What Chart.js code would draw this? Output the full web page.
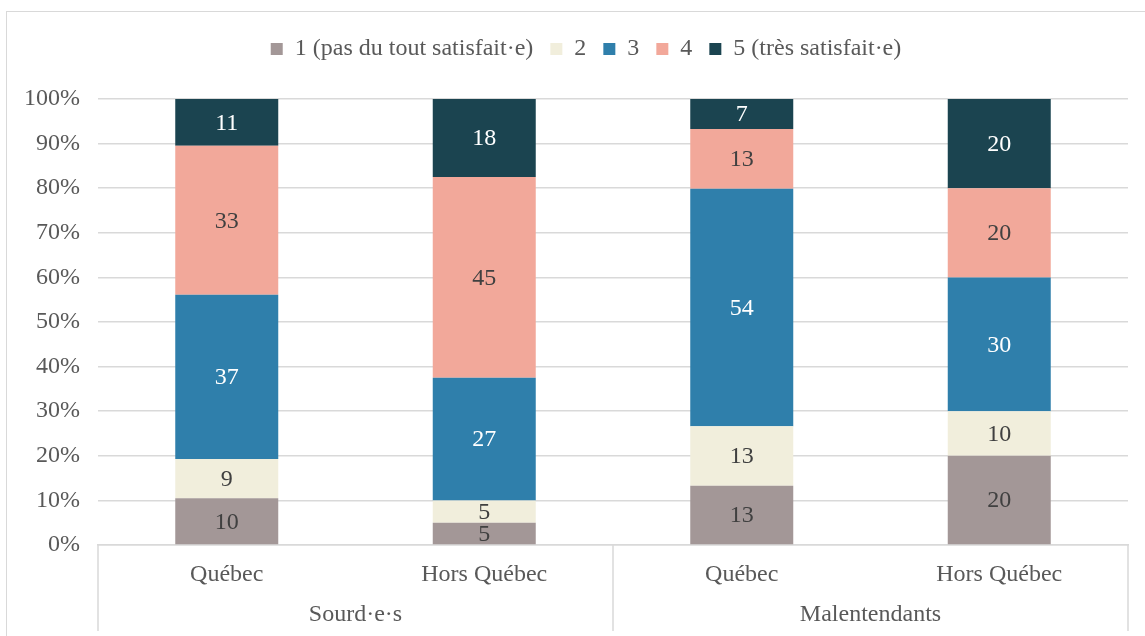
<!DOCTYPE html>
<html lang="fr">
<head>
    <meta charset="UTF-8">
    <title>Satisfaction - Sourd·e·s / Malentendants</title>
    <script src="https://cdn.jsdelivr.net/npm/chart.js@4.4.1/dist/chart.umd.min.js"></script>
    <style>
        * { margin: 0; padding: 0; box-sizing: border-box; }
        body { background: #fff; width: 1145px; height: 636px; overflow: hidden; }
        .wrap { position: relative; width: 1145px; height: 636px; }
        .frame {
            position: absolute; left: 6px; top: 11px; width: 1145px; height: 640px;
            border: 1.5px solid #d9d9d9;
        }
        canvas { position: absolute; left: 0; top: 0; }
    </style>
</head>
<body>
<div class="wrap">
    <div class="frame"></div>
    <canvas id="chart" width="1145" height="636"></canvas>
</div>
<script>
    // Data (percentages per bar)
    const categories = ['Québec', 'Hors Québec', 'Québec', 'Hors Québec'];
    const groups = ['Sourd·e·s', 'Malentendants'];
    const seriesNames = ['1 (pas du tout satisfait·e)', '2', '3', '4', '5 (très satisfait·e)'];

    const s1 = [10.5, 5, 13.3, 20];
    const s2 = [8.8, 5, 13.3, 10];
    const s3 = [36.8, 27.5, 53.3, 30];
    const s4 = [33.4, 45, 13.4, 20];
    const s5 = [10.5, 17.5, 6.7, 20];

    // labels shown on the segments
    const l1 = [10, 5, 13, 20];
    const l2 = [9, 5, 13, 10];
    const l3 = [37, 27, 54, 30];
    const l4 = [33, 45, 13, 20];
    const l5 = [11, 18, 7, 20];

    const yTicks = [0, 10, 20, 30, 40, 50, 60, 70, 80, 90, 100];

    const colors = ['#a39797', '#f1eedc', '#2f7fab', '#f2a89a', '#1b4450'];
    const labelColors = ['#404040', '#404040', '#ffffff', '#404040', '#ffffff'];
    const seriesValues = [s1, s2, s3, s4, s5];
    const seriesLabels = [l1, l2, l3, l4, l5];

    const FONT = "'Liberation Serif', 'Times New Roman', serif";
    const GRID = '#d9d9d9';

    // extra room between legend and plot, legend nudged right
    const legendGap = {
        id: 'legendGap',
        beforeInit(chart) {
            const fit = chart.legend.fit;
            chart.legend.fit = function () {
                fit.call(this);
                this.height += 28;
            };
        },
        afterUpdate(chart) {
            chart.legend.left += 19;
            chart.legend.right += 19;
        }
    };

    // value labels in the middle of each segment
    const segmentLabels = {
        id: 'segmentLabels',
        afterDatasetsDraw(chart) {
            const ctx = chart.ctx;
            ctx.save();
            ctx.font = '24px ' + FONT;
            ctx.textAlign = 'center';
            ctx.textBaseline = 'middle';
            chart.data.datasets.forEach((ds, i) => {
                const meta = chart.getDatasetMeta(i);
                meta.data.forEach((bar, j) => {
                    ctx.fillStyle = labelColors[i];
                    ctx.fillText(seriesLabels[i][j], bar.x, (bar.y + bar.base) / 2 + 1);
                });
            });
            ctx.restore();
        }
    };

    // two-level category axis: separators and group names
    const groupAxis = {
        id: 'groupAxis',
        afterDraw(chart) {
            const ctx = chart.ctx;
            const x = chart.scales.x;
            const area = chart.chartArea;
            const mid = (x.getPixelForValue(1) + x.getPixelForValue(2)) / 2;
            ctx.save();
            ctx.strokeStyle = GRID;
            ctx.lineWidth = 1.5;
            [area.left, mid, area.right].forEach(px => {
                ctx.beginPath();
                ctx.moveTo(px, area.bottom);
                ctx.lineTo(px, 631);
                ctx.stroke();
            });
            ctx.font = '24px ' + FONT;
            ctx.fillStyle = '#595959';
            ctx.textAlign = 'center';
            ctx.textBaseline = 'middle';
            groups.forEach((g, k) => {
                const cx = (x.getPixelForValue(2 * k) + x.getPixelForValue(2 * k + 1)) / 2;
                ctx.fillText(g, cx, 615);
            });
            ctx.restore();
        }
    };

    new Chart(document.getElementById('chart'), {
        type: 'bar',
        data: {
            labels: categories,
            datasets: seriesNames.map((name, i) => ({
                label: name,
                data: seriesValues[i],
                backgroundColor: colors[i],
                borderWidth: 0,
                barPercentage: 0.4,
                categoryPercentage: 1
            }))
        },
        options: {
            responsive: false,
            animation: false,
            layout: { padding: { left: 6, right: 17, top: 20, bottom: 0 } },
            plugins: {
                legend: {
                    position: 'top',
                    labels: {
                        boxWidth: 12,
                        boxHeight: 12,
                        padding: 17,
                        color: '#595959',
                        font: { family: FONT, size: 24 }
                    }
                },
                tooltip: { enabled: false }
            },
            scales: {
                x: {
                    stacked: true,
                    grid: { display: false, drawTicks: false },
                    border: { display: true, color: GRID, width: 1.5 },
                    ticks: {
                        color: '#595959',
                        padding: 15,
                        font: { family: FONT, size: 24 },
                        maxRotation: 0
                    },
                    afterFit(scale) { scale.height = 91; }
                },
                y: {
                    stacked: true,
                    min: 0,
                    max: 100,
                    afterBuildTicks(scale) { scale.ticks = yTicks.map(v => ({ value: v })); },
                    grid: { color: GRID, lineWidth: 1.5, drawTicks: false },
                    border: { display: false },
                    ticks: {
                        color: '#595959',
                        padding: 18,
                        font: { family: FONT, size: 24 },
                        callback: v => v + '%'
                    },
                    afterFit(scale) { scale.width = 92; }
                }
            }
        },
        plugins: [legendGap, segmentLabels, groupAxis]
    });
</script>
</body>
</html>
